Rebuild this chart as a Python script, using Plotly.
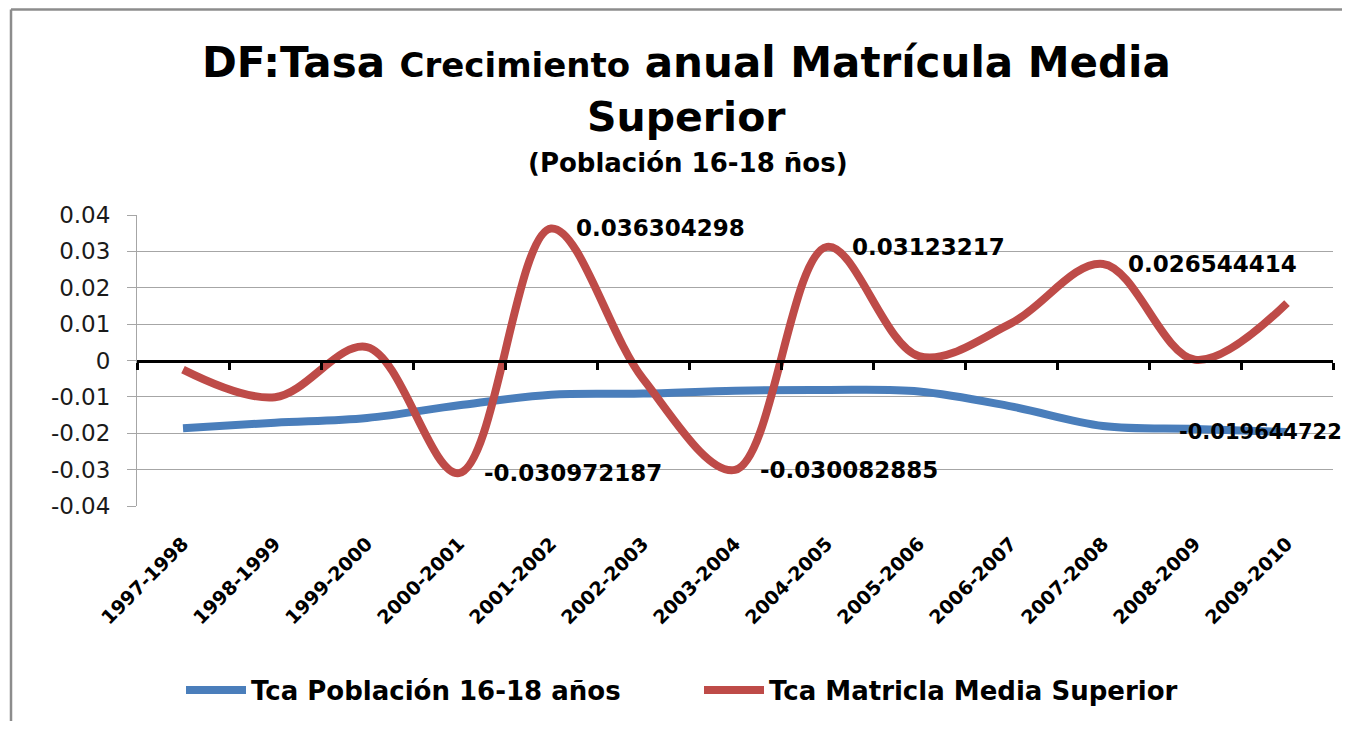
import plotly.graph_objects as go

categories = ["1997-1998", "1998-1999", "1999-2000", "2000-2001", "2001-2002",
              "2002-2003", "2003-2004", "2004-2005", "2005-2006", "2006-2007",
              "2007-2008", "2008-2009", "2009-2010"]
poblacion = [-0.0186, -0.0171, -0.0158, -0.0123, -0.0094, -0.0091, -0.0083,
             -0.0081, -0.0085, -0.0126, -0.0180, -0.0188, -0.019644722]
matricula = [-0.0025, -0.0101, 0.0037, -0.030972187, 0.036304298, -0.0050,
             -0.030082885, 0.03123217, 0.0012, 0.0102, 0.026544414, 0.0002, 0.0158]
y_ticks = [-0.04, -0.03, -0.02, -0.01, 0, 0.01, 0.02, 0.03, 0.04]
y_tick_labels = ["-0.04", "-0.03", "-0.02", "-0.01", "0", "0.01", "0.02", "0.03", "0.04"]
red_labelled = [3, 4, 6, 7, 10]
blue_labelled = [12]

BLUE = "#4A7EBB"
RED = "#BE4B48"
FONT = "DejaVu Sans"

# page geometry: browser body has an 8px margin; keep the figure inside the window
OFF = 8
W, H = 1342, 713
PL, PR, PT, PB = 137, 1333, 215, 506      # desired plot-area edges on the page
L, T = PL - OFF, PT - OFF
R = W - (PR - OFF)
B = H - (PB - OFF)
PW, PH = PR - PL, PB - PT
def px(x):
    return (x - PL) / PW
def py(y):
    return (PB - y) / PH
def cy(y):
    return 1 - (y - OFF) / H

fig = go.Figure()
fig.add_trace(go.Scatter(x=categories, y=poblacion, mode="lines",
                         name="Tca Población 16-18 años",
                         line=dict(color=BLUE, width=8, shape="spline", smoothing=1)))
fig.add_trace(go.Scatter(x=categories, y=matricula, mode="lines",
                         name="Tca Matricla Media Superior",
                         line=dict(color=RED, width=8, shape="spline", smoothing=1)))
# invisible trace to carry the zero-crossing category axis
fig.add_trace(go.Scatter(x=categories, y=[None] * len(categories), xaxis="x2",
                         mode="lines", showlegend=False, hoverinfo="skip"))

for i in red_labelled:
    fig.add_annotation(x=categories[i], y=matricula[i], text=f"{matricula[i]}",
                       xanchor="left", yanchor="middle", xshift=23, showarrow=False,
                       font=dict(family=FONT, size=23, color="black", weight="bold"))
for i in blue_labelled:
    fig.add_annotation(x=categories[i], y=poblacion[i], text=f"{poblacion[i]}",
                       xanchor="left", yanchor="middle", xshift=-110, showarrow=False,
                       font=dict(family=FONT, size=21, color="black", weight="bold"))

# titles
fig.add_annotation(xref="paper", yref="paper", x=px(686), y=py(62),
                   text="DF:Tasa <span style='font-size:34px'>Crecimiento</span> anual Matrícula Media",
                   showarrow=False, xanchor="center", yanchor="middle",
                   font=dict(family=FONT, size=42, color="black", weight="bold"))
fig.add_annotation(xref="paper", yref="paper", x=px(686), y=py(117),
                   text="Superior", showarrow=False, xanchor="center", yanchor="middle",
                   font=dict(family=FONT, size=41, color="black", weight="bold"))
fig.add_annotation(xref="paper", yref="paper", x=px(688), y=py(163),
                   text="(Población 16-18 ños)", showarrow=False, xanchor="center", yanchor="middle",
                   font=dict(family=FONT, size=26, color="black", weight="bold"))

# outer chart frame (left and top edges; the rest lies outside the picture)
frame = dict(color="#8C8C8C", width=2.5)
fig.add_shape(type="line", xref="paper", yref="paper",
              x0=px(11), x1=px(11), y0=py(9.5), y1=py(760), line=frame, layer="below")
fig.add_shape(type="line", xref="paper", yref="paper",
              x0=px(11), x1=px(1380), y0=py(9.5), y1=py(9.5), line=frame, layer="below")

fig.update_layout(
    width=W, height=H,
    margin=dict(l=L, r=R, t=T, b=B, pad=0, autoexpand=False),
    paper_bgcolor="white", plot_bgcolor="white",
    showlegend=True,
    legend=dict(orientation="h", xref="paper", x=px(181), xanchor="left",
                yref="container", y=cy(690), yanchor="middle",
                font=dict(family=FONT, size=26, color="black", weight="bold"),
                itemwidth=60, entrywidth=443, bgcolor="rgba(0,0,0,0)"),
    xaxis=dict(type="category", categoryorder="array", categoryarray=categories,
               range=[-0.5, len(categories) - 0.5], showgrid=False, showline=False,
               ticks="", tickangle=-45, zeroline=False, ticklabelstandoff=22,
               automargin=False,
               tickfont=dict(family=FONT, size=19, color="black", weight="bold")),
    xaxis2=dict(type="category", categoryorder="array", categoryarray=categories,
                overlaying="x", anchor="free", position=0.5,
                range=[-0.5, len(categories) - 0.5], showgrid=False,
                showline=True, linecolor="black", linewidth=3,
                ticks="outside", tickson="boundaries", ticklen=7, tickwidth=3,
                tickcolor="black", showticklabels=False),
    yaxis=dict(range=[-0.04, 0.04], tickvals=y_ticks, ticktext=y_tick_labels,
               showgrid=True, gridcolor="#A6A6A6", gridwidth=1,
               showline=True, linecolor="#A6A6A6", linewidth=1,
               ticks="outside", ticklen=9, tickcolor="#A6A6A6",
               zeroline=False, ticklabelstandoff=12, automargin=False,
               tickfont=dict(family=FONT, size=23, color="#1a1a1a")),
)

fig.write_html("out.html")
